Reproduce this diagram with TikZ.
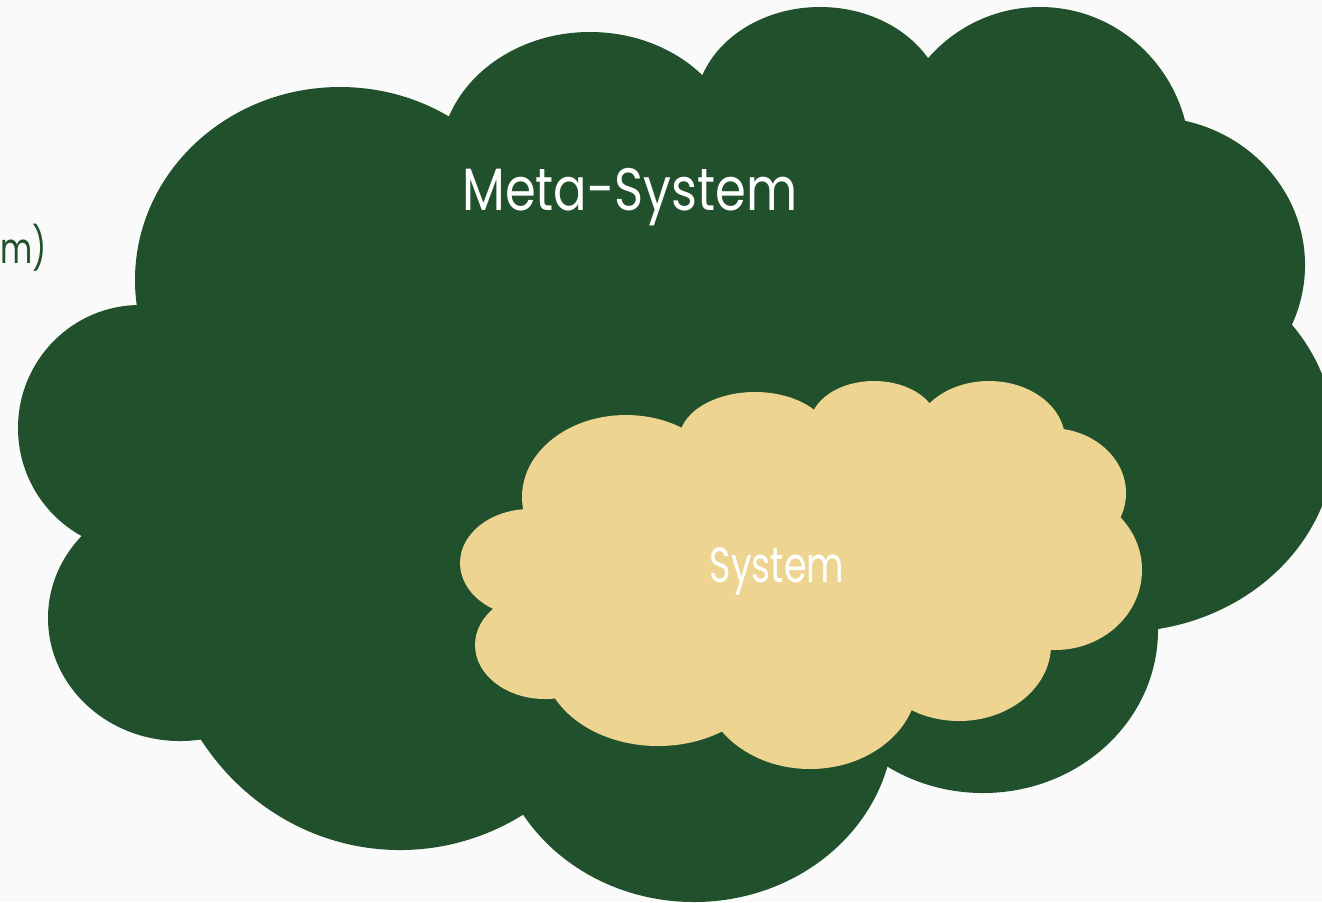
\documentclass[tikz,border=0pt]{standalone}
\usepackage{fontspec}
\setmainfont{Poppins}[FakeStretch=0.83]
\newfontfamily\narrowfont{Poppins}[FakeStretch=0.74]
\usepackage{tikz}

\definecolor{paper}{HTML}{FAFAFA}
\definecolor{metagreen}{HTML}{20512C}
\definecolor{syssand}{HTML}{EDD591}

\tikzset{
  metapuff/.style={fill=metagreen},
  syspuff/.style={fill=syssand},
  cloudlabel/.style={text=white, inner sep=0pt, anchor=base},
}

\begin{document}
\begin{tikzpicture}[x=0.01cm, y=-0.01cm]
% Frame
\fill[paper] (0,0) rectangle (1322,902);
\useasboundingbox (0,0) rectangle (1322,902);
% Meta-system cloud
\fill[metapuff] (150,310) -- (450,125) -- (705,90) -- (928,70) -- (1175,130) -- (1280,323)
  -- (1150,620) -- (889,755) -- (521,805) -- (205,730) -- (100,535) -- cycle;
\fill[metapuff] (340,280) ellipse [x radius=205, y radius=193];
\fill[metapuff] (590,160) ellipse [x radius=150, y radius=128];
\fill[metapuff] (820,110) ellipse [x radius=125, y radius=103];
\fill[metapuff] (1040,160) ellipse [x radius=150, y radius=153];
\fill[metapuff] (1150,265) ellipse [x radius=155, y radius=148];
\fill[metapuff] (1120,440) ellipse [x radius=215, y radius=192];
\fill[metapuff] (983,630) ellipse [x radius=175, y radius=163];
\fill[metapuff] (694,720) ellipse [x radius=200, y radius=182];
\fill[metapuff] (400,600) ellipse [x radius=240, y radius=250];
\fill[metapuff] (180,618) ellipse [x radius=132, y radius=123];
\fill[metapuff] (140,428) ellipse [x radius=122, y radius=123];
% System cloud
\fill[syspuff] (530,512) -- (681,437) -- (814,420) -- (930,412) -- (1055,437) -- (1110,519)
  -- (1045,645) -- (908,703) -- (720,725) -- (556,690) -- (503,609) -- cycle;
\fill[syspuff] (530,563) ellipse [x radius=70, y radius=54];
\fill[syspuff] (545,645) ellipse [x radius=70, y radius=54];
\fill[syspuff] (658,660) ellipse [x radius=115, y radius=86];
\fill[syspuff] (810,680) ellipse [x radius=108, y radius=89];
\fill[syspuff] (959,645) ellipse [x radius=92, y radius=76];
\fill[syspuff] (1055,570) ellipse [x radius=87, y radius=80];
\fill[syspuff] (1050,493) ellipse [x radius=76, y radius=65];
\fill[syspuff] (989,440) ellipse [x radius=76, y radius=59];
\fill[syspuff] (874,425) ellipse [x radius=64, y radius=44];
\fill[syspuff] (755,440) ellipse [x radius=76, y radius=48];
\fill[syspuff] (626,497) ellipse [x radius=104, y radius=82];
% Labels
\node[cloudlabel, font=\fontsize{17}{20}\selectfont] (meta) at (630,210) {Meta-System};
\node[cloudlabel, font=\narrowfont\fontsize{14}{17}\selectfont] (sys) at (777,582) {System};
\node[inner sep=0pt, anchor=base west, text=metagreen, font=\narrowfont\fontsize{12}{15}\selectfont] (cut) at (0,263) {m)};
\end{tikzpicture}
\end{document}
